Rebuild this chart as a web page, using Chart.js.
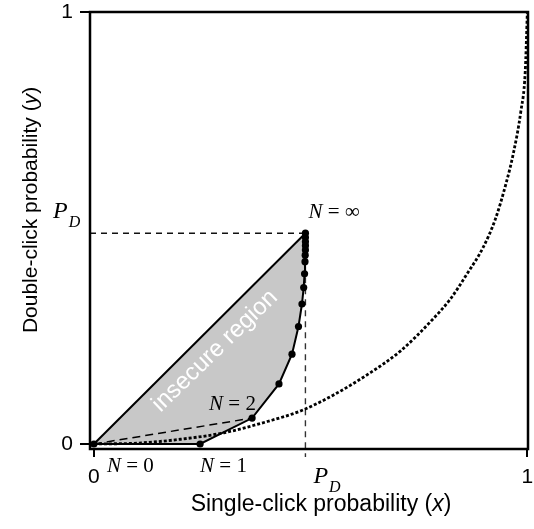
<!DOCTYPE html>
<html><head><meta charset="utf-8">
<script src="https://cdn.jsdelivr.net/npm/chart.js@4/dist/chart.umd.min.js"></script>
<style>html,body{margin:0;padding:0;background:#fff}</style>
</head><body>
<canvas id="c" width="534" height="529" style="width:534px;height:529px;display:block"></canvas>
<script>
// ---- data ----
const PD = 0.488;
const chainX = [0, 0.245, 0.365, 0.427, 0.457, 0.472, 0.480, 0.484, 0.486, 0.487, 0.4875, 0.488, 0.488, 0.488, 0.488, 0.488];
const chainY = [0, 0, 0.060, 0.139, 0.208, 0.272, 0.324, 0.362, 0.394, 0.422, 0.437, 0.449, 0.459, 0.468, 0.478, 0.488];
const curveX = [0, 0.1, 0.2, 0.3, 0.4, 0.478, 0.552, 0.63, 0.707, 0.783, 0.822, 0.861, 0.898, 0.926, 0.95, 0.968, 0.985, 0.995, 1.0];
const curveY = [0, 0.002, 0.011, 0.026, 0.052, 0.077, 0.113, 0.16, 0.215, 0.29, 0.335, 0.394, 0.455, 0.52, 0.6, 0.674, 0.77, 0.86, 1.0];
const xTicks = [0, 1];
const yTicks = [0, 1];
const nLabels = [
  {idx: 0, text: '0'},
  {idx: 1, text: '1'},
  {idx: 2, text: '2'},
  {idx: chainX.length - 1, text: '\u221E'}
];
const xTitle = ['Single-click probability (', 'x', ')'];
const yTitle = ['Double-click probability (', 'y', ')'];
const regionLabel = 'insecure region';

const X_MIN = -0.009, X_MAX = 1.0015, Y_MIN = -0.0116, Y_MAX = 1.0;

const pts = (xs, ys) => xs.map((x, i) => ({x, y: ys[i]}));
const chain = pts(chainX, chainY);
const polyFull = [{x:0,y:0}].concat(chain.slice(1)).concat([{x:0,y:0}]);

const SANS = '"Liberation Sans", Arial, Helvetica, sans-serif';
const SERIF = '"Liberation Serif", "Times New Roman", serif';

const labelPlugin = {
  id: 'labels',
  afterDraw(chart) {
    const {ctx, chartArea: a, scales: {x, y}} = chart;
    ctx.save();
    // frame
    ctx.strokeStyle = '#000';
    ctx.lineWidth = 2.5;
    ctx.strokeRect(a.left, a.top, a.right - a.left, a.bottom - a.top);

    // N labels
    const offs = [[13, 28], [0, 28], [-43, -8], [3, -15]];
    ctx.fillStyle = '#000';
    ctx.textBaseline = 'alphabetic';
    ctx.textAlign = 'left';
    nLabels.forEach((l, k) => {
      const px = x.getPixelForValue(chainX[l.idx]) + offs[k][0];
      const py = y.getPixelForValue(chainY[l.idx]) + offs[k][1];
      ctx.font = 'italic 21px ' + SERIF;
      ctx.fillText('N', px, py);
      const w = ctx.measureText('N').width;
      ctx.font = '21px ' + SERIF;
      ctx.fillText(' = ' + l.text, px + w, py);
    });

    // P_D labels
    const drawPD = (px, py) => {
      ctx.font = 'italic 24px ' + SERIF;
      ctx.fillText('P', px, py);
      const w = ctx.measureText('P').width;
      ctx.font = 'italic 16px ' + SERIF;
      ctx.fillText('D', px + w + 1, py + 9);
    };
    drawPD(53, y.getPixelForValue(PD) - 15);
    drawPD(x.getPixelForValue(PD) + 8, 483);

    // axis titles
    const drawMixed = (parts, cx, cy, size) => {
      const f = size + 'px ' + SANS, fi = 'italic ' + size + 'px ' + SANS;
      ctx.font = f;
      const w0 = ctx.measureText(parts[0]).width;
      ctx.font = fi;
      const w1 = ctx.measureText(parts[1]).width;
      ctx.font = f;
      const w2 = ctx.measureText(parts[2]).width;
      let sx = cx - (w0 + w1 + w2) / 2;
      ctx.font = f; ctx.fillText(parts[0], sx, cy);
      ctx.font = fi; ctx.fillText(parts[1], sx + w0, cy);
      ctx.font = f; ctx.fillText(parts[2], sx + w0 + w1, cy);
    };
    drawMixed(xTitle, 321, 511, 23);
    ctx.save();
    ctx.translate(37, 210);
    ctx.rotate(-Math.PI / 2);
    drawMixed(yTitle, 0, 0, 21);
    ctx.restore();

    // region label
    ctx.save();
    ctx.translate(215, 351);
    ctx.rotate(-44 * Math.PI / 180);
    ctx.fillStyle = '#fff';
    ctx.font = '24px ' + SANS;
    ctx.textAlign = 'center';
    ctx.textBaseline = 'middle';
    ctx.fillText(regionLabel, 0, 0);
    ctx.restore();

    ctx.restore();
  }
};

new Chart(document.getElementById('c'), {
  type: 'scatter',
  data: {
    datasets: [
      { // chain with points
        data: chain, showLine: true, borderColor: '#000', backgroundColor: '#000',
        borderWidth: 2, pointRadius: 3.6, pointBackgroundColor: '#000', pointBorderWidth: 0,
        tension: 0, order: 1
      },
      { // diagonal
        data: [{x: 0, y: 0}, {x: PD, y: PD}], showLine: true, borderColor: '#000',
        borderWidth: 2, pointRadius: 0, order: 2
      },
      { // dashed origin -> N=2
        data: [chain[0], chain[2]], showLine: true, borderColor: '#000',
        borderWidth: 1.5, borderDash: [8, 5], pointRadius: 0, order: 3
      },
      { // dotted curve
        data: pts(curveX, curveY), showLine: true, borderColor: '#000',
        borderWidth: 2.8, borderDash: [3, 2], pointRadius: 0, cubicInterpolationMode: 'monotone', order: 4
      },
      { // PD horizontal guide
        data: [{x: X_MIN, y: PD}, {x: PD, y: PD}], showLine: true, borderColor: '#111',
        borderWidth: 1.4, borderDash: [6, 5], pointRadius: 0, clip: false, order: 5
      },
      { // PD vertical guide
        data: [{x: PD, y: PD}, {x: PD, y: -0.03}], showLine: true, borderColor: '#333',
        borderWidth: 1.4, borderDash: [6, 5], pointRadius: 0, clip: false, order: 6
      },
      { // insecure region fill
        data: polyFull, showLine: true, borderWidth: 0, borderColor: 'rgba(0,0,0,0)',
        backgroundColor: '#c8c8c8', fill: 'shape', pointRadius: 0, order: 10
      }
    ]
  },
  options: {
    responsive: false, animation: false, devicePixelRatio: 1,
    layout: {padding: {left: 0, right: 6, top: 12, bottom: 0}},
    plugins: {legend: {display: false}, tooltip: {enabled: false}},
    scales: {
      x: {
        type: 'linear', min: X_MIN, max: X_MAX,
        afterBuildTicks: s => { s.ticks = xTicks.map(v => ({value: v})); },
        afterFit: s => { s.height = 80; s.paddingLeft = 0; s.paddingRight = 0; },
        border: {display: false},
        grid: {drawOnChartArea: false, drawTicks: true, tickLength: 8, color: '#000', lineWidth: 2},
        ticks: {color: '#000', font: {family: SANS, size: 21}, padding: 8, callback: v => String(v), maxRotation: 0}
      },
      y: {
        type: 'linear', min: Y_MIN, max: Y_MAX,
        afterBuildTicks: s => { s.ticks = yTicks.map(v => ({value: v})); },
        afterFit: s => { s.width = 90; s.paddingTop = 0; s.paddingBottom = 0; },
        border: {display: false},
        grid: {drawOnChartArea: false, drawTicks: true, tickLength: 10, color: '#000', lineWidth: 2},
        ticks: {color: '#000', font: {family: SANS, size: 21}, padding: 7, callback: v => String(v)}
      }
    }
  },
  plugins: [labelPlugin]
});
</script>
</body></html>
